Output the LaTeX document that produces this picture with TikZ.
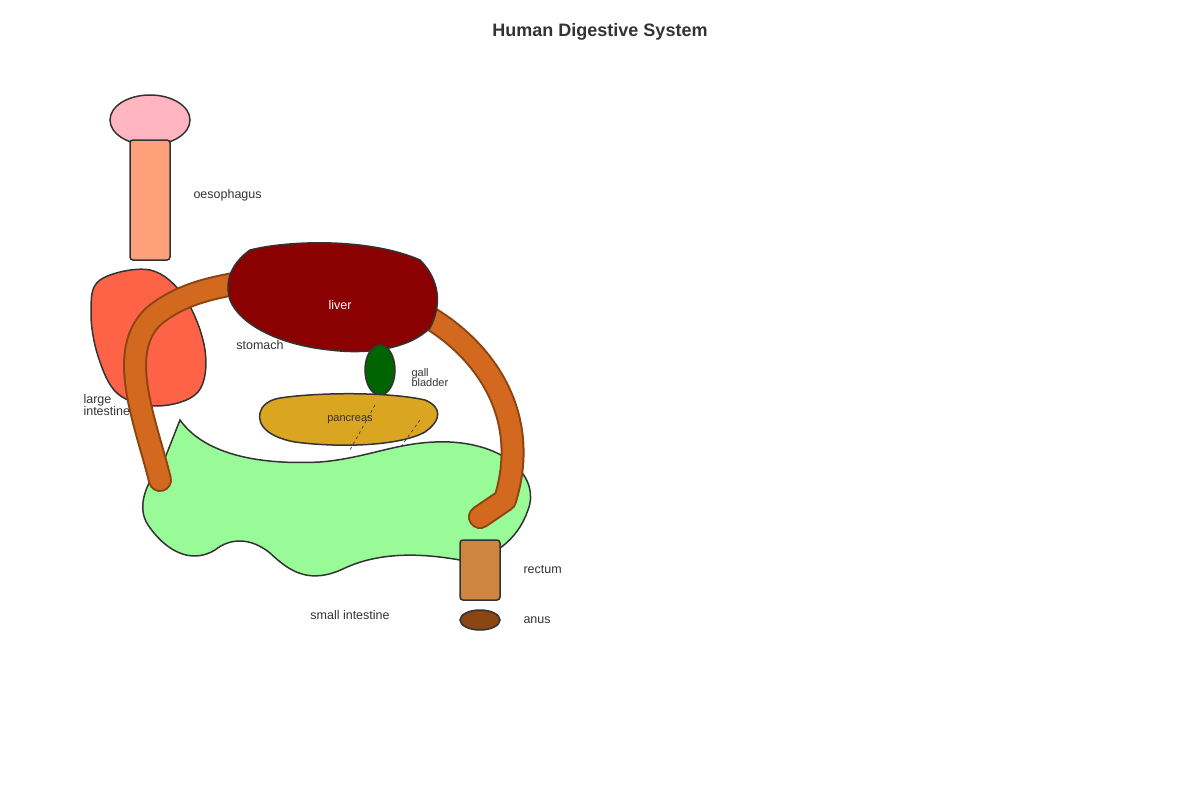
\documentclass[tikz,border=0pt]{standalone}
\usepackage{fontspec}
\setmainfont{Liberation Sans}
\begin{document}
\begin{tikzpicture}[x=1pt,y=-1pt,
  org/.style={draw=black!80,line width=1.5pt},
  lab/.style={font=\fontsize{12.5}{14}\selectfont,text=black!80},
  small/.style={font=\fontsize{11}{12}\selectfont,text=black!80,align=left}]
\useasboundingbox (0,0) rectangle (1200,800);
\node[font=\bfseries\fontsize{18}{20}\selectfont,text=black!80] (title) at (600,32) {Human Digestive System};
% stomach
\draw[org,fill={rgb,255:red,255;green,99;blue,71}] plot[smooth cycle,tension=0.6] coordinates{(100,280)(150,270)(185,298)(205,350)(198,392)(158,406)(118,394)(98,356)(91,312)};
% small intestine
\draw[org,fill={rgb,255:red,152;green,251;blue,152}] (180,420) .. controls (205,455) and (260,465) .. (320,462) .. controls (370,458) and (400,440) .. (450,442) .. controls (510,445) and (540,480) .. (528,510) .. controls (518,540) and (490,562) .. (460,560) .. controls (420,553) and (380,552) .. (345,568) .. controls (310,585) and (290,572) .. (270,553) .. controls (250,537) and (230,538) .. (215,550) .. controls (190,565) and (165,550) .. (148,525) .. controls (135,505) and (148,480) .. (165,458) -- cycle;
% large intestine tube
\path (160,480) coordinate (li1) (480,517) coordinate (li2);
\draw[line width=24pt,draw={rgb,255:red,139;green,69;blue,19},line cap=round,line join=round] (li1) .. controls (145,420) and (115,350) .. (155,315) .. controls (180,295) and (210,288) .. (240,283) -- (330,280) .. controls (380,285) and (410,300) .. (430,318) .. controls (490,355) and (530,420) .. (505,500) -- (li2);
\draw[line width=20pt,draw={rgb,255:red,210;green,105;blue,30},line cap=round,line join=round] (li1) .. controls (145,420) and (115,350) .. (155,315) .. controls (180,295) and (210,288) .. (240,283) -- (330,280) .. controls (380,285) and (410,300) .. (430,318) .. controls (490,355) and (530,420) .. (505,500) -- (li2);
% liver
\draw[org,fill={rgb,255:red,139;green,0;blue,0}] (250,250) .. controls (290,240) and (370,238) .. (420,260) .. controls (440,280) and (442,305) .. (430,328) .. controls (410,348) and (370,355) .. (330,350) .. controls (280,345) and (240,325) .. (230,300) .. controls (224,280) and (232,263) .. (250,250) -- cycle;
\node[lab,text=white] (liver) at (340,305) {liver};
% gall bladder
\draw[org,fill={rgb,255:red,0;green,100;blue,0}] (380,370) ellipse[x radius=15,y radius=25];
\node[small,anchor=west] (gall) at (408,378) {gall\\[-2pt]bladder};
% pancreas
\draw[org,fill={rgb,255:red,218;green,165;blue,32}] (280,398) .. controls (320,392) and (390,392) .. (425,400) .. controls (442,407) and (442,420) .. (425,432) .. controls (400,446) and (340,448) .. (295,442) .. controls (262,436) and (255,420) .. (262,408) .. controls (267,401) and (274,399) .. (280,398) -- cycle;
\node[small] (pancreas) at (350,420) {pancreas};
\draw[dashed,black!80,line width=0.6pt] (375,405) -- (350,450);
\draw[dashed,black!80,line width=0.6pt] (420,420) -- (400,448);
% mouth & oesophagus
\draw[org,fill={rgb,255:red,255;green,182;blue,193}] (150,120) ellipse[x radius=40,y radius=25];
\draw[org,fill={rgb,255:red,255;green,160;blue,122},rounded corners=3pt] (130,140) rectangle (170,260);
% rectum anus
\draw[org,fill={rgb,255:red,205;green,133;blue,63},rounded corners=3pt] (460,540) rectangle (500,600);
\draw[org,fill={rgb,255:red,139;green,69;blue,19}] (480,620) ellipse[x radius=20,y radius=10];
% labels
\node[lab,anchor=west] (oes) at (190,195) {oesophagus};
\node[lab] (stomach) at (260,345) {stomach};
\node[lab,align=left,anchor=west] (large) at (80,405) {large\\[-2pt]intestine};
\node[lab] (smallint) at (350,615) {small intestine};
\node[lab,anchor=west] (rectum) at (520,570) {rectum};
\node[lab,anchor=west] (anus) at (520,620) {anus};
\end{tikzpicture}
\end{document}
